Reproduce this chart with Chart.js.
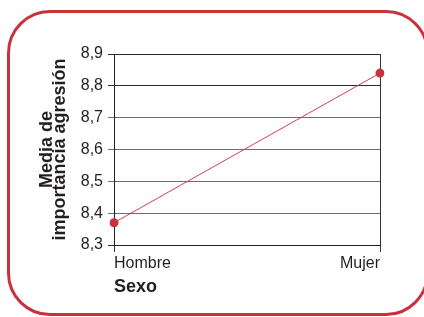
<!DOCTYPE html>
<html>
<head>
<meta charset="utf-8">
<script src="https://cdn.jsdelivr.net/npm/chart.js@4"></script>
<style>
  html, body { margin: 0; padding: 0; background: #fff; }
  #wrap { position: relative; width: 424px; height: 317px; overflow: hidden; }
  #frame { position: absolute; left: 7px; top: 10px; width: 416px; height: 300px;
           border: 3px solid #c8323c; border-radius: 43px; }
  canvas { position: absolute; left: 0; top: 0; }
</style>
</head>
<body>
<div id="wrap">
  <div id="frame"></div>
  <canvas id="c" width="424" height="317"></canvas>
</div>
<script>
const categories = ['Hombre', 'Mujer'];
const values = [8.37, 8.84];
const yMin = 8.3, yMax = 8.9, yStep = 0.1;
const xTitle = 'Sexo';
const yTitle = ['Media de', 'importancia agresión'];

const FONT = '"Liberation Sans", Arial, Helvetica, sans-serif';
const TEXT = '#231f20';

new Chart(document.getElementById('c'), {
  type: 'line',
  data: {
    labels: categories,
    datasets: [{
      data: values,
      borderColor: '#d2424c',
      borderWidth: 1,
      pointRadius: 4.5,
      pointBackgroundColor: '#c8323c',
      pointBorderColor: '#c8323c',
      pointBorderWidth: 0,
      tension: 0
    }]
  },
  options: {
    responsive: false,
    devicePixelRatio: 1,
    animation: false,
    layout: { padding: { left: 41, top: 54, right: 44, bottom: 19 } },
    plugins: { legend: { display: false }, tooltip: { enabled: false } },
    scales: {
      x: {
        type: 'category',
        offset: false,
        grid: { color: '#333', lineWidth: 1, tickLength: 7, drawTicks: true },
        border: { display: true, color: '#222', width: 1 },
        ticks: { align: 'inner', padding: 2, color: TEXT, font: { family: FONT, size: 16 } },
        title: { display: true, text: xTitle, align: 'start', color: TEXT,
                 padding: { top: 0, bottom: 0 },
                 font: { family: FONT, size: 18, weight: 'bold' } },
        afterFit: s => { s.height = 53; }
      },
      y: {
        min: yMin, max: yMax,
        grid: {
          color: c => {
            const v = Math.round((c.tick ? c.tick.value : 0) * 10) / 10;
            return (v >= 8.8 || v <= 8.3) ? '#2a2a2a' : '#6e6e6e';
          },
          lineWidth: 1, tickLength: 6
        },
        border: { display: true, color: '#222', width: 1 },
        ticks: {
          stepSize: yStep, padding: 5, color: TEXT,
          font: { family: FONT, size: 16 },
          callback: v => Number(v).toFixed(1).replace('.', ',')
        },
        title: { display: true, text: yTitle, color: TEXT,
                 padding: { top: 0, bottom: 0 },
                 font: { family: FONT, size: 18, weight: 'bold', lineHeight: 0.72 } },
        afterFit: s => { s.width = 73; }
      }
    }
  }
});
</script>
</body>
</html>
